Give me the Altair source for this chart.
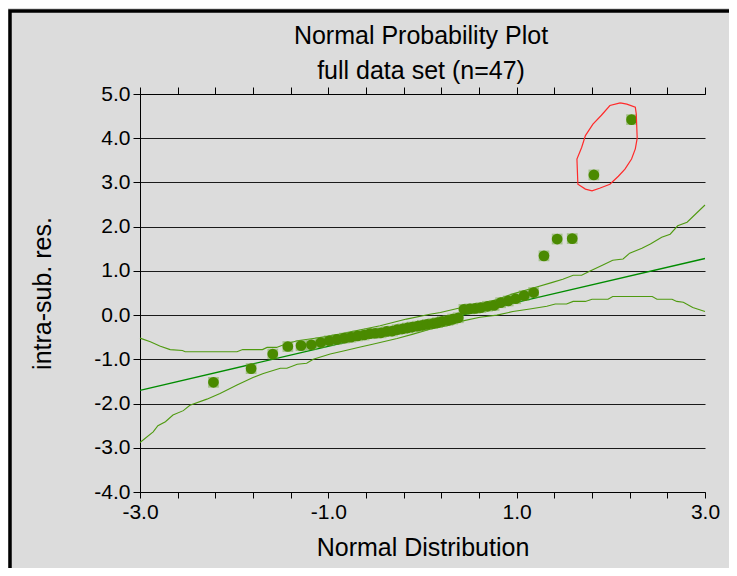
import altair as alt
import pandas as pd

# ---------------- data ----------------
normal_score = [-2.22, -1.82, -1.59, -1.43, -1.29, -1.18, -1.08, -0.99, -0.91, -0.83,
                -0.76, -0.69, -0.62, -0.56, -0.50, -0.44, -0.38, -0.32, -0.27, -0.21,
                -0.16, -0.11, -0.05, 0.00, 0.05, 0.11, 0.16, 0.21, 0.27, 0.32,
                0.38, 0.44, 0.50, 0.56, 0.62, 0.69, 0.76, 0.83, 0.91, 0.99,
                1.08, 1.18, 1.29, 1.43, 1.59, 1.82, 2.22]
residual = [-1.52, -1.21, -0.88, -0.71, -0.69, -0.67, -0.62, -0.58, -0.55, -0.52,
            -0.50, -0.47, -0.45, -0.42, -0.41, -0.40, -0.37, -0.36, -0.33, -0.31,
            -0.29, -0.27, -0.25, -0.23, -0.21, -0.19, -0.17, -0.14, -0.12, -0.09,
            -0.06, 0.13, 0.14, 0.15, 0.17, 0.20, 0.22, 0.28, 0.32, 0.37,
            0.44, 0.51, 1.34, 1.72, 1.73, 3.17, 4.42]

fit_x = [-3.0, 3.0]
fit_y = [-1.70, 1.28]

upper_x = [-3.00, -2.89, -2.79, -2.68, -2.55, -2.52, -1.97, -1.91, -1.70, -1.65, -1.55,
           -1.46, -1.33, -1.16, -1.01, -0.88, -0.63, -0.45, -0.17, 0.08, 0.19, 0.37,
           0.61, 0.79, 0.96, 1.14, 1.38, 1.49, 1.60, 1.69, 1.78, 1.91, 2.02, 2.13,
           2.20, 2.33, 2.42, 2.54, 2.63, 2.71, 2.81, 3.00]
upper_y = [-0.52, -0.60, -0.70, -0.78, -0.80, -0.83, -0.83, -0.78, -0.78, -0.73, -0.73,
           -0.66, -0.58, -0.53, -0.48, -0.43, -0.32, -0.24, -0.09, 0.02, 0.06, 0.15,
           0.25, 0.35, 0.48, 0.59, 0.74, 0.81, 0.90, 0.90, 1.00, 1.13, 1.24, 1.27,
           1.40, 1.51, 1.61, 1.76, 1.83, 2.02, 2.10, 2.49]

lower_x = [-3.00, -2.86, -2.81, -2.73, -2.65, -2.54, -2.47, -2.29, -2.15, -1.97, -1.80,
           -1.69, -1.51, -1.44, -1.33, -1.23, -1.16, -0.98, -0.84, -0.66, -0.53, -0.27,
           -0.10, 0.08, 0.26, 0.43, 0.61, 0.79, 0.96, 1.14, 1.32, 1.41, 1.53, 1.60,
           1.73, 1.80, 1.97, 2.02, 2.44, 2.49, 2.65, 2.70, 2.77, 2.87, 3.00]
lower_y = [-2.88, -2.64, -2.50, -2.41, -2.26, -2.16, -2.04, -1.90, -1.77, -1.58, -1.41,
           -1.32, -1.20, -1.20, -1.11, -1.09, -1.00, -0.88, -0.81, -0.72, -0.66, -0.53,
           -0.43, -0.32, -0.24, -0.13, -0.05, 0.00, 0.08, 0.14, 0.20, 0.25, 0.25, 0.31,
           0.31, 0.36, 0.36, 0.42, 0.42, 0.36, 0.36, 0.31, 0.29, 0.17, 0.08]

loop_x = [2.10, 2.17, 2.26, 2.27, 2.28, 2.26, 2.22, 2.15, 2.08, 1.99, 1.88, 1.80, 1.73,
          1.65, 1.64, 1.69, 1.73, 1.81, 1.90, 1.99, 2.10]
loop_y = [4.80, 4.77, 4.70, 4.55, 4.00, 3.76, 3.53, 3.30, 3.14, 2.96, 2.87, 2.81, 2.85,
          2.96, 3.53, 3.79, 4.06, 4.32, 4.52, 4.74, 4.80]

x_ticks = [-3.0, -2.6, -2.2, -1.8, -1.4, -1.0, -0.6, -0.2, 0.2, 0.6, 1.0, 1.4, 1.8,
           2.2, 2.6, 3.0]
y_ticks = [-4.0, -3.0, -2.0, -1.0, 0.0, 1.0, 2.0, 3.0, 4.0, 5.0]

title_lines = ["Normal Probability Plot", "full data set (n=47)"]
x_title = "Normal Distribution"
y_title = "intra-sub. res."

# ---------------- tables ----------------
pts = pd.DataFrame({"x": normal_score, "y": residual})
fit = pd.DataFrame({"x": fit_x, "y": fit_y})
upper = pd.DataFrame({"x": upper_x, "y": upper_y})
lower = pd.DataFrame({"x": lower_x, "y": lower_y})
loop = pd.DataFrame({"x": loop_x, "y": loop_y, "o": list(range(len(loop_x)))})
frame = pd.DataFrame({"k": [0]})
t1 = pd.DataFrame({"t": [title_lines[0]]})
t2 = pd.DataFrame({"t": [title_lines[1]]})

FONT = "Liberation Sans"
xscale = alt.Scale(domain=[-3, 3], nice=False, zero=False)
yscale = alt.Scale(domain=[-4, 5], nice=False, zero=False)

yaxis = alt.Axis(values=y_ticks, grid=True, gridColor="#1a1a1a", gridWidth=1,
                 gridOpacity=1, domainColor="#000000", tickColor="#000000",
                 tickSize=7, labelFontSize=21, labelFont=FONT, labelColor="#000000",
                 labelPadding=3, labelOverlap=False,
                 labelExpr="(datum.value < 0 ? '-' : '') + format(abs(datum.value), '.1f')",
                 title=y_title, titleFont=FONT, titleFontSize=25, titleFontWeight="normal",
                 titleColor="#000000", titleX=-98, titleBaseline="middle")

xaxis_bottom = alt.Axis(orient="bottom", values=x_ticks, grid=False, domainColor="#000000",
                        tickColor="#000000", tickSize=6, labelFontSize=21, labelFont=FONT,
                        labelColor="#000000", labelPadding=3, labelFlush=False,
                        labelOverlap=False,
                        labelExpr="(abs(abs(datum.value)-1) < 0.01 || abs(abs(datum.value)-3) < 0.01) ? (datum.value < 0 ? '-' : '') + format(abs(datum.value), '.1f') : ''",
                        title=x_title, titleFont=FONT, titleFontSize=25,
                        titleFontWeight="normal", titleColor="#000000",
                        titleY=55, titleBaseline="middle")

xaxis_top = alt.Axis(orient="top", values=x_ticks, grid=False, domainColor="#000000",
                     tickColor="#000000", tickSize=7, labels=False, title=None)

base_x = lambda ax: alt.X("x:Q", scale=xscale, axis=ax)
base_y = alt.Y("y:Q", scale=yscale, axis=yaxis)

band_color = "#4f9a10"

fit_layer = alt.Chart(fit).mark_line(color="#008c00", strokeWidth=1.3).encode(
    x=base_x(xaxis_top), y=base_y)
upper_layer = alt.Chart(upper).mark_line(color=band_color, strokeWidth=1.1).encode(
    x=base_x(None), y=base_y)
lower_layer = alt.Chart(lower).mark_line(color=band_color, strokeWidth=1.1).encode(
    x=base_x(None), y=base_y)
halo_layer = alt.Chart(pts).mark_point(shape="square", filled=True, size=115,
                                       color="#6ea63a", opacity=0.5).encode(
    x=base_x(None), y=base_y)
pts_layer = alt.Chart(pts).mark_point(shape="circle", filled=True, size=115,
                                      color="#4a8a00", opacity=1).encode(
    x=base_x(xaxis_bottom), y=base_y)
loop_layer = alt.Chart(loop).mark_line(color="#ff2a2a", strokeWidth=1.2).encode(
    x=base_x(None), y=base_y, order="o:Q")

title1 = alt.Chart(t1).mark_text(font=FONT, fontSize=25, color="#000000",
                                 baseline="alphabetic", align="center").encode(
    text="t:N", x=alt.value(281), y=alt.value(-50))
title2 = alt.Chart(t2).mark_text(font=FONT, fontSize=25, color="#000000",
                                 baseline="alphabetic", align="center").encode(
    text="t:N", x=alt.value(281), y=alt.value(-15))

frame_box = alt.Chart(frame).mark_rect(fill="transparent", stroke="#000000",
                                       strokeWidth=3.5, clip=False).encode(
    x=alt.value(-130), x2=alt.value(640), y=alt.value(-83), y2=alt.value(520))

chart = alt.layer(
    frame_box, fit_layer, upper_layer, lower_layer, halo_layer, pts_layer, loop_layer,
    title1, title2
).resolve_axis(x="independent").properties(
    width=565, height=398,
    padding={"left": 132, "top": 86, "right": 24, "bottom": 76},
    autosize=alt.AutoSizeParams(type="none"),
    background="#dcdcdc",
).configure_view(strokeWidth=0)

chart.save("out.html", embed_options={"renderer": "svg", "actions": False})
